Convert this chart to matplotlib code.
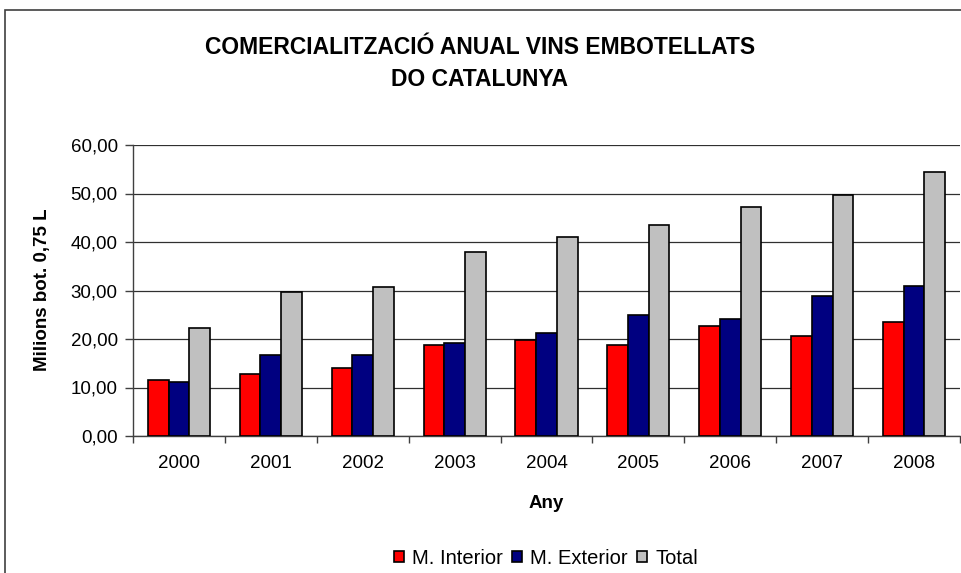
import matplotlib
matplotlib.use('Agg')
import matplotlib.pyplot as plt
from matplotlib.patches import Rectangle
from matplotlib.ticker import FuncFormatter, FixedLocator
import numpy as np

plt.rcParams['font.family'] = ['Liberation Sans', 'DejaVu Sans']

# data (milions of 0,75 L bottles)
years = ['2000', '2001', '2002', '2003', '2004', '2005', '2006', '2007', '2008']
interior = [11.5, 12.8, 14.1, 18.7, 19.7, 18.7, 22.7, 20.7, 23.6]
exterior = [11.2, 16.7, 16.7, 19.1, 21.3, 24.9, 24.2, 28.9, 30.9]
total = [22.3, 29.6, 30.8, 38.0, 41.0, 43.6, 47.3, 49.6, 54.4]
series_names = ['M. Interior', 'M. Exterior', 'Total']
colors = ['#ff0000', '#000080', '#c0c0c0']

W, H = 962, 573
fig = plt.figure(figsize=(W/100, H/100), dpi=100)
# outer chart border
fig.patches.append(Rectangle((5/W, -0.01), 1.02, 1 - 10/H + 0.01, transform=fig.transFigure,
                             fill=False, edgecolor='#404040', linewidth=1.2))

ax = fig.add_axes([133/W, 1 - 436/H, (960-133)/W, (436-145)/H])

x = np.arange(len(years))
bw = 0.225
for k, vals in enumerate([interior, exterior, total]):
    ax.bar(x + (k-1)*bw, vals, width=bw, color=colors[k], edgecolor='black',
           linewidth=1.2, label=series_names[k], zorder=3)

ax.set_xlim(-0.5, len(years) - 0.5)
ax.set_ylim(0, 60)
ax.set_yticks(np.arange(0, 61, 10))
ax.yaxis.set_major_formatter(FuncFormatter(lambda v, p: f'{v:.2f}'.replace('.', ',')))
ax.set_xticks(x)
ax.set_xticklabels(years)
ax.xaxis.set_minor_locator(FixedLocator(np.arange(-0.5, len(years), 1)))
ax.tick_params(axis='x', which='major', length=0, pad=14, labelsize=13.5)
ax.tick_params(axis='x', which='minor', length=5, width=1, color='#404040')
ax.tick_params(axis='y', length=6, width=1, color='#404040', labelsize=13.5, pad=5)
ax.grid(axis='y', color='#303030', linewidth=0.9, zorder=0)

for s in ['top', 'right']:
    ax.spines[s].set_visible(False)
for s in ['left', 'bottom']:
    ax.spines[s].set_color('#404040')
    ax.spines[s].set_linewidth(1)

fig.text(546/W, 1 - 504/H, 'Any', ha='center', va='center', fontsize=13.5, fontweight='bold')
fig.text(43/W, 1 - 290/H, 'Milions bot. 0,75 L', ha='center', va='center', rotation=90,
         fontsize=13.5, fontweight='bold')

fig.text(480/W, 1 - 47/H, 'COMERCIALITZACIÓ ANUAL VINS EMBOTELLATS', ha='center', va='center',
         fontsize=16.5, fontweight='bold')
fig.text(480/W, 1 - 80/H, 'DO CATALUNYA', ha='center', va='center',
         fontsize=16.5, fontweight='bold')

fig.legend(loc='center', bbox_to_anchor=(546/W, 1 - 558/H), ncol=3, frameon=False,
           fontsize=14.5, handlelength=0.5, handleheight=0.5, handletextpad=0.4,
           columnspacing=0.45, borderpad=0)

fig.savefig('out.png', dpi=100)
